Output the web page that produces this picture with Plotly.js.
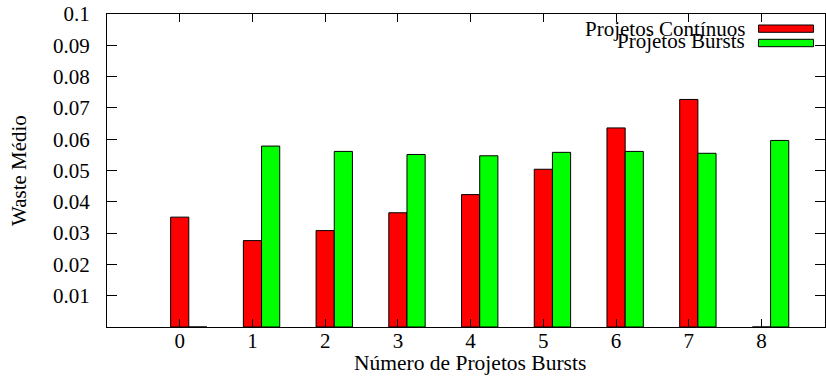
<!DOCTYPE html>
<html>
<head>
<meta charset="utf-8">
<script src="https://cdn.plot.ly/plotly-3.0.1.min.js"></script>
<style>
  html, body { margin: 0; padding: 0; background: #fff; }
  #chart { width: 826px; height: 376px; }
</style>
</head>
<body>
<div id="chart"></div>
<script>
// Average waste per number of burst projects
const categories = [0, 1, 2, 3, 4, 5, 6, 7, 8];
const continuos = [0.0351, 0.0276, 0.0308, 0.0365, 0.0423, 0.0504, 0.0636, 0.0727, 0.0];
const bursts    = [0.0, 0.0578, 0.0561, 0.0551, 0.0547, 0.0558, 0.0561, 0.0555, 0.0596];
const yTicks = [0.01, 0.02, 0.03, 0.04, 0.05, 0.06, 0.07, 0.08, 0.09, 0.1];
const yTickText = ['0.01', '0.02', '0.03', '0.04', '0.05', '0.06', '0.07', '0.08', '0.09', '0.1'];
const seriesNames = ['Projetos Contínuos', 'Projetos Bursts'];
const seriesColors = ['#ff0000', '#00ff00'];
const xTitle = 'Número de Projetos Bursts';
const yTitle = 'Waste Médio';

const FONT = 'Liberation Serif, Times New Roman, serif';
const barW = 0.25;

const traces = [
  {
    type: 'bar', x: categories, y: continuos, name: seriesNames[0],
    width: barW, offset: -barW / 2,
    marker: { color: seriesColors[0], line: { color: '#000', width: 1 } },
    showlegend: false, hoverinfo: 'x+y'
  },
  {
    type: 'bar', x: categories, y: bursts, name: seriesNames[1],
    width: barW, offset: barW / 2,
    marker: { color: seriesColors[1], line: { color: '#000', width: 1 } },
    showlegend: false, hoverinfo: 'x+y'
  }
];

// Pixel helpers for placing the key and the axis titles
const M = { l: 107, r: 1, t: 14, b: 49 };
const PW = 826 - M.l - M.r, PH = 376 - M.t - M.b;
const px = v => (v - M.l) / PW;
const py = v => (376 - M.b - v) / PH;

// Key in the top right corner: label on the left, colour sample on the right
const keyRows = [28.6, 41.0];
const keyBoxes = [[25, 32.3], [39.3, 46.7]];
const annotations = seriesNames.map((n, i) => ({
  xref: 'paper', yref: 'paper', x: px(747), y: py(keyRows[i]),
  xanchor: 'right', yanchor: 'middle', showarrow: false,
  text: n, font: { family: FONT, size: 21, color: '#000' }
}));
annotations.push({
  xref: 'paper', yref: 'paper', x: px(470), y: py(363),
  xanchor: 'center', yanchor: 'middle', showarrow: false,
  text: xTitle, font: { family: FONT, size: 21.5, color: '#000' }
});
annotations.push({
  xref: 'paper', yref: 'paper', x: px(18.5), y: py(170.5),
  xanchor: 'center', yanchor: 'middle', showarrow: false, textangle: -90,
  text: yTitle, font: { family: FONT, size: 21, color: '#000' }
});
const shapes = seriesNames.map((n, i) => ({
  type: 'rect', xref: 'paper', yref: 'paper',
  x0: px(758.5), x1: px(813.5), y0: py(keyBoxes[i][1]), y1: py(keyBoxes[i][0]),
  fillcolor: seriesColors[i], line: { color: '#000', width: 1 }
}));

const layout = {
  width: 826, height: 376, autosize: false,
  margin: M,
  paper_bgcolor: '#fff', plot_bgcolor: '#fff',
  barmode: 'overlay',
  font: { family: FONT, size: 21, color: '#000' },
  xaxis: {
    range: [-1, 8.873], tickmode: 'array', tickvals: categories,
    ticks: 'inside', ticklen: 8, tickcolor: '#000', tickwidth: 1,
    showline: true, linecolor: '#000', linewidth: 1, mirror: 'allticks',
    showgrid: false, zeroline: false,
    tickfont: { family: FONT, size: 21 },
    ticklabelstandoff: -5
  },
  yaxis: {
    range: [0, 0.1], tickmode: 'array', tickvals: yTicks, ticktext: yTickText,
    ticks: 'inside', ticklen: 10, tickcolor: '#000', tickwidth: 1,
    showline: true, linecolor: '#000', linewidth: 1, mirror: 'allticks',
    showgrid: false, zeroline: false,
    tickfont: { family: FONT, size: 21 },
    ticklabelstandoff: 12
  },
  annotations: annotations,
  shapes: shapes
};

Plotly.newPlot('chart', traces, layout, { staticPlot: true, displayModeBar: false });
</script>
</body>
</html>
